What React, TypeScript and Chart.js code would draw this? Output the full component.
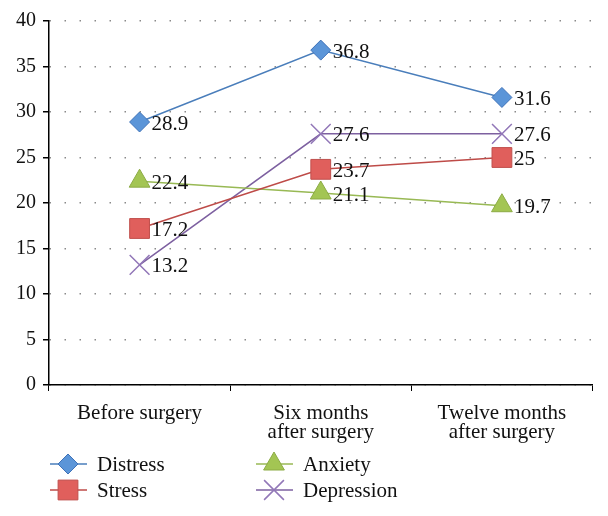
import React, { useEffect, useRef } from 'react';
import { Chart, registerables, PointElement } from 'chart.js';
Chart.register(...registerables);

const categories: string[][] = [["Before surgery"], ["Six months", "after surgery"], ["Twelve months", "after surgery"]];
const distress = [28.9, 36.8, 31.6];
const stress = [17.2, 23.7, 25];
const anxiety = [22.4, 21.1, 19.7];
const depression = [13.2, 27.6, 27.6];
const seriesNames = ["Distress", "Stress", "Anxiety", "Depression"];
const yMin = 0;
const yMax = 40;
const yStep = 5;

const FONT = "'Liberation Serif', 'Times New Roman', serif";

const legendLayout = [
  { ds: 0, x: 50, y: 464 },
  { ds: 1, x: 50, y: 490 },
  { ds: 2, x: 256, y: 464 },
  { ds: 3, x: 256, y: 490 },
];

const dataLabelPlugin = {
  id: 'dataLabels',
  afterDatasetsDraw(chart: any) {
    const ctx = chart.ctx;
    ctx.save();
    ctx.font = `21px ${FONT}`;
    ctx.fillStyle = '#111';
    ctx.textBaseline = 'middle';
    ctx.textAlign = 'left';
    chart.data.datasets.forEach((ds: any, i: number) => {
      const meta = chart.getDatasetMeta(i);
      meta.data.forEach((pt: any, j: number) => {
        ctx.fillText(String(ds.data[j]), pt.x + 12, pt.y + 2);
      });
    });
    ctx.restore();
  },
};

const legendPlugin = {
  id: 'customLegend',
  afterDraw(chart: any) {
    const ctx = chart.ctx;
    ctx.save();
    legendLayout.forEach((item) => {
      const ds = chart.data.datasets[item.ds];
      ctx.strokeStyle = ds.borderColor;
      ctx.lineWidth = 1.5;
      ctx.beginPath();
      ctx.moveTo(item.x, item.y);
      ctx.lineTo(item.x + 37, item.y);
      ctx.stroke();
      const p: any = new (PointElement as any)({});
      p.x = item.x + 18;
      p.y = item.y;
      p.options = {
        pointStyle: ds.pointStyle,
        rotation: 0,
        radius: ds.pointRadius,
        borderWidth: ds.pointBorderWidth,
        backgroundColor: ds.pointBackgroundColor,
        borderColor: ds.pointBorderColor,
      };
      p.draw(ctx);
      ctx.fillStyle = '#111';
      ctx.font = `21px ${FONT}`;
      ctx.textBaseline = 'middle';
      ctx.textAlign = 'left';
      ctx.fillText(seriesNames[item.ds], item.x + 47, item.y + 1);
    });
    ctx.restore();
  },
};

export default function App() {
  const ref = useRef<HTMLCanvasElement>(null);
  useEffect(() => {
    if (!ref.current) return;
    const chart = new Chart(ref.current, {
      type: 'line',
      data: {
        labels: categories as any,
        datasets: [
          {
            label: seriesNames[0],
            data: distress,
            borderColor: '#4a7ebb',
            borderWidth: 1.5,
            pointStyle: 'rectRot',
            pointRadius: 10,
            pointBorderWidth: 1,
            pointBackgroundColor: '#5b95d8',
            pointBorderColor: '#3f72b8',
          },
          {
            label: seriesNames[1],
            data: stress,
            borderColor: '#be4b48',
            borderWidth: 1.5,
            pointStyle: 'rect',
            pointRadius: 14,
            pointBorderWidth: 1,
            pointBackgroundColor: '#e05f5c',
            pointBorderColor: '#c0504d',
          },
          {
            label: seriesNames[2],
            data: anxiety,
            borderColor: '#98b954',
            borderWidth: 1.5,
            pointStyle: 'triangle',
            pointRadius: 12,
            pointBorderWidth: 1,
            pointBackgroundColor: '#a3c553',
            pointBorderColor: '#8cab45',
          },
          {
            label: seriesNames[3],
            data: depression,
            borderColor: '#7d60a0',
            borderWidth: 1.5,
            pointStyle: 'crossRot',
            pointRadius: 14,
            pointBorderWidth: 1.5,
            pointBackgroundColor: '#9277b8',
            pointBorderColor: '#9277b8',
          },
        ],
      },
      options: {
        animation: false,
        responsive: false,
        maintainAspectRatio: false,
        layout: { padding: { top: 21, right: 12, left: 0, bottom: 0 } },
        plugins: {
          legend: { display: false },
          tooltip: { enabled: false },
        },
        scales: {
          x: {
            type: 'category',
            offset: true,
            grid: {
              offset: true,
              drawOnChartArea: false,
              drawTicks: true,
              tickLength: 6,
              tickColor: '#000',
              color: '#000',
            },
            border: { display: true, color: '#000', width: 1.5 },
            ticks: {
              color: '#111',
              font: { family: FONT, size: 21, lineHeight: 0.9 },
              padding: 13,
              maxRotation: 0,
              autoSkip: false,
            },
            afterFit(scale: any) {
              scale.height = 131;
            },
          },
          y: {
            min: yMin,
            max: yMax,
            grid: {
              color: '#8a8a8a',
              lineWidth: 1.5,
              drawTicks: true,
              tickLength: 6,
              tickColor: '#000',
              tickBorderDash: [],
              tickWidth: 1.5,
            } as any,
            border: { display: true, color: '#000', width: 1.5, dash: [1.5, 13.5] },
            ticks: {
              stepSize: yStep,
              color: '#111',
              font: { family: FONT, size: 20 },
              padding: 7,
            },
            afterFit(scale: any) {
              scale.width = 49;
            },
          },
        },
      },
      plugins: [dataLabelPlugin, legendPlugin],
    });
    return () => chart.destroy();
  }, []);
  return (
    <div style={{ position: 'fixed', left: 0, top: 0, width: 608, height: 516, background: '#fff' }}>
      <canvas ref={ref} width={608} height={516} style={{ width: 608, height: 516 }} />
    </div>
  );
}
